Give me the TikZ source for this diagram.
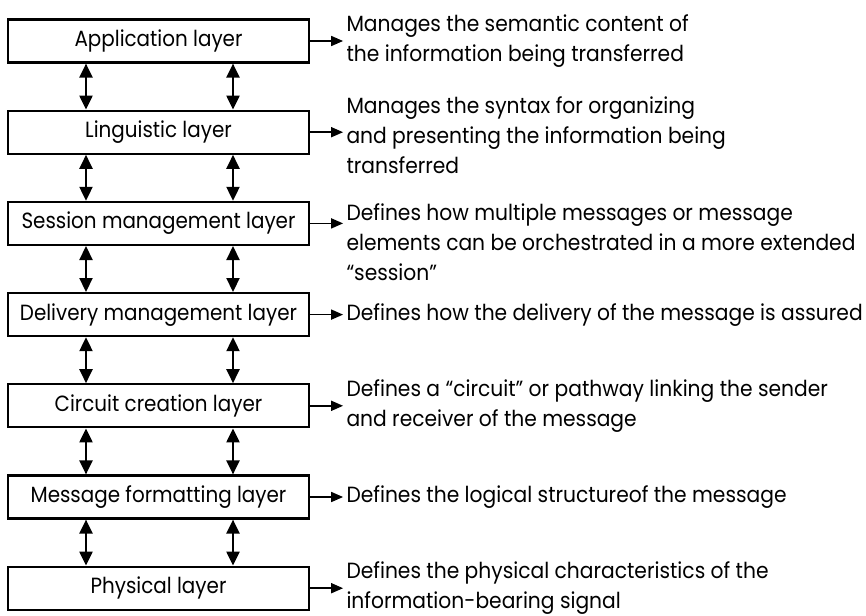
\documentclass[tikz,border=0pt]{standalone}
\usepackage{fontspec}
\setmainfont{Poppins}[FakeStretch=0.92]
\newfontfamily\layerfont{Poppins}[FakeStretch=0.905]
\usetikzlibrary{positioning, arrows.meta}
\tikzstyle{layer} = [rectangle, minimum width=150.5pt, minimum height=21.5pt, inner sep=0pt, text centered, draw=black, line width=1.1pt, font=\layerfont\fontsize{11}{15}\selectfont]
\tikzstyle{desc} = [align=left, inner sep=0pt]
\tikzstyle{arrow} = [line width=0.85pt,->,>={Triangle[length=6pt,width=5pt]}]
\tikzstyle{link} = [line width=1.1pt,<->,>={Triangle[length=7pt,width=6.5pt]}]

\begin{document}
\begin{tikzpicture}[node distance=45.6pt, font=\fontsize{11}{15}\selectfont]
        \useasboundingbox (0,0) rectangle (433pt,-307.5pt);
        % layers
        \node (app) [layer] at (79.25pt,-20.5pt) {Application layer};
        \node (ling) [layer, below of=app] {Linguistic layer};
        \node (sess) [layer, below of=ling] {Session management layer};
        \node (deliv) [layer, below of=sess] {Delivery management layer};
        \node (circ) [layer, below of=deliv] {Circuit creation layer};
        \node (fmt) [layer, below of=circ] {Message formatting layer};
        \node (phys) [layer, below of=fmt] {Physical layer};
        % descriptions
        \node (appd) [desc, right=18pt of app] {Manages the semantic content of\\the information being transferred};
        \node (lingd) [desc, right=18pt of ling, yshift=-1.5pt] {Manages the syntax for organizing\\and presenting the information being\\transferred};
        \node (sessd) [desc, right=18pt of sess, yshift=-9.5pt] {Defines how multiple messages or message\\elements can be orchestrated in a more extended\\``session''};
        \node (delivd) [desc, right=18pt of deliv] {Defines how the delivery of the message is assured};
        \node (circd) [desc, right=18pt of circ] {Defines a ``circuit'' or pathway linking the sender\\and receiver of the message};
        \node (fmtd) [desc, right=18pt of fmt] {Defines the logical structureof the message};
        \node (physd) [desc, right=18pt of phys] {Defines the physical characteristics of the\\information-bearing signal};
        \draw [arrow, shorten >=1.5pt] (app.east) -- (app.east -| appd.west);
        \draw [arrow, shorten >=1.5pt] (ling.east) -- (ling.east -| lingd.west);
        \draw [arrow, shorten >=1.5pt] (sess.east) -- (sess.east -| sessd.west);
        \draw [arrow, shorten >=1.5pt] (deliv.east) -- (deliv.east -| delivd.west);
        \draw [arrow, shorten >=1.5pt] (circ.east) -- (circ.east -| circd.west);
        \draw [arrow, shorten >=1.5pt] (fmt.east) -- (fmt.east -| fmtd.west);
        \draw [arrow, shorten >=1.5pt] (phys.east) -- (phys.east -| physd.west);
        % links between layers
        \draw [link] ([xshift=-36.25pt]app.south) -- ([xshift=-36.25pt]ling.north);
        \draw [link] ([xshift=37.25pt]app.south) -- ([xshift=37.25pt]ling.north);
        \draw [link] ([xshift=-36.25pt]ling.south) -- ([xshift=-36.25pt]sess.north);
        \draw [link] ([xshift=37.25pt]ling.south) -- ([xshift=37.25pt]sess.north);
        \draw [link] ([xshift=-36.25pt]sess.south) -- ([xshift=-36.25pt]deliv.north);
        \draw [link] ([xshift=37.25pt]sess.south) -- ([xshift=37.25pt]deliv.north);
        \draw [link] ([xshift=-36.25pt]deliv.south) -- ([xshift=-36.25pt]circ.north);
        \draw [link] ([xshift=37.25pt]deliv.south) -- ([xshift=37.25pt]circ.north);
        \draw [link] ([xshift=-36.25pt]circ.south) -- ([xshift=-36.25pt]fmt.north);
        \draw [link] ([xshift=37.25pt]circ.south) -- ([xshift=37.25pt]fmt.north);
        \draw [link] ([xshift=-36.25pt]fmt.south) -- ([xshift=-36.25pt]phys.north);
        \draw [link] ([xshift=37.25pt]fmt.south) -- ([xshift=37.25pt]phys.north);
      \end{tikzpicture}
\end{document}
